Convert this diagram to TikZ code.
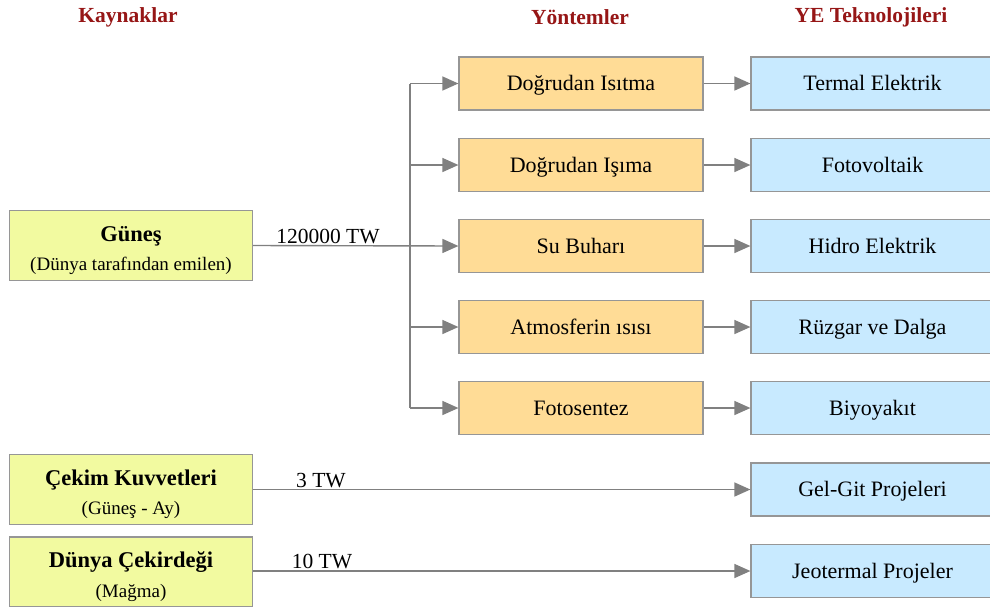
\documentclass[tikz,border=0pt]{standalone}
\usepackage{fontspec}
\setmainfont{Liberation Serif}
\usetikzlibrary{arrows.meta}
\definecolor{hdr}{RGB}{150,22,22}
\definecolor{srcfill}{RGB}{242,250,160}
\definecolor{midfill}{RGB}{255,220,150}
\definecolor{techfill}{RGB}{200,234,255}
\definecolor{edge}{RGB}{150,150,150}
\definecolor{lin}{RGB}{128,128,128}
\tikzset{
  boxbase/.style={draw=edge, line width=1.2pt, rectangle, inner sep=0pt, align=center},
  srcbox/.style={boxbase, fill=srcfill, minimum width=243pt, minimum height=70pt},
  midbox/.style={boxbase, fill=midfill, minimum width=244pt, minimum height=53pt, font=\fontsize{22}{26}\selectfont, text height=19pt, text depth=4.5pt},
  techbox/.style={boxbase, fill=techfill, minimum width=243pt, minimum height=53pt, font=\fontsize{22}{26}\selectfont, text height=19pt, text depth=4.5pt},
  header/.style={text=hdr, font=\fontsize{21.5}{25}\selectfont\bfseries, inner sep=0pt},
  lbl/.style={font=\fontsize{21.5}{25}\selectfont, inner sep=0pt, anchor=base},
  conn/.style={draw=lin, line width=1.4pt},
  arr/.style={conn, -{Triangle[length=16pt, width=14pt, fill=lin]}}
}
\newcommand{\ttl}[1]{{\fontsize{22.5}{27}\selectfont\bfseries\rule{0pt}{25pt}#1}}
\newcommand{\sub}[1]{{\fontsize{19}{23}\selectfont #1}}
\begin{document}
\begin{tikzpicture}[x=1pt, y=-1pt]
\useasboundingbox (0,0) rectangle (990,606);
\clip (0,0) rectangle (990,606);
% headers
\node[header] (h1) at (128,17) {Kaynaklar};
\node[header] (h2) at (580,17) {Yöntemler};
\node[header] (h3) at (871,17) {YE Teknolojileri};
% sources
\node[srcbox] (s1) at (131,245.5) {\ttl{Güneş}\\[10pt]\sub{(Dünya tarafından emilen)}};
\node[srcbox] (s2) at (131,489.5) {\ttl{Çekim Kuvvetleri}\\[10pt]\sub{(Güneş - Ay)}};
\node[srcbox] (s3) at (131,572) {\ttl{Dünya Çekirdeği}\\[10pt]\sub{(Mağma)}};
% methods
\node[midbox] (m1) at (581,83.5) {Doğrudan Isıtma};
\node[midbox] (m2) at (581,165) {Doğrudan Işıma};
\node[midbox] (m3) at (581,246) {Su Buharı};
\node[midbox] (m4) at (581,327) {Atmosferin ısısı};
\node[midbox] (m5) at (581,408) {Fotosentez};
% technologies
\node[techbox] (t1) at (872.5,83.5) {Termal Elektrik};
\node[techbox] (t2) at (872.5,165) {Fotovoltaik};
\node[techbox] (t3) at (872.5,246) {Hidro Elektrik};
\node[techbox] (t4) at (872.5,327) {Rüzgar ve Dalga};
\node[techbox] (t5) at (872.5,408) {Biyoyakıt};
\node[techbox] (t6) at (872.5,489.5) {Gel-Git Projeleri};
\node[techbox] (t7) at (872.5,571) {Jeotermal Projeler};
% junctions
\coordinate (j1) at (410,83.5);
\coordinate (j2) at (410,165);
\coordinate (j4) at (410,327);
\coordinate (j5) at (410,408);
\draw[conn] (j1) -- (j5);
\draw[arr] (j1) -- (m1.west);
\draw[arr] (j2) -- (m2.west);
\draw[arr] (s1.east) -- (m3.west);
\draw[arr] (j4) -- (m4.west);
\draw[arr] (j5) -- (m5.west);
\foreach \i in {1,...,5} {\draw[arr] (m\i.east) -- (t\i.west);}
\draw[arr] (s2.east) -- (t6.west);
\draw[arr] (s3.east |- t7.west) -- (t7.west);
% labels
\node[lbl] (l1) at (328,243) {120000 TW};
\node[lbl] (l2) at (321,487) {3 TW};
\node[lbl] (l3) at (322,568) {10 TW};
\end{tikzpicture}
\end{document}
